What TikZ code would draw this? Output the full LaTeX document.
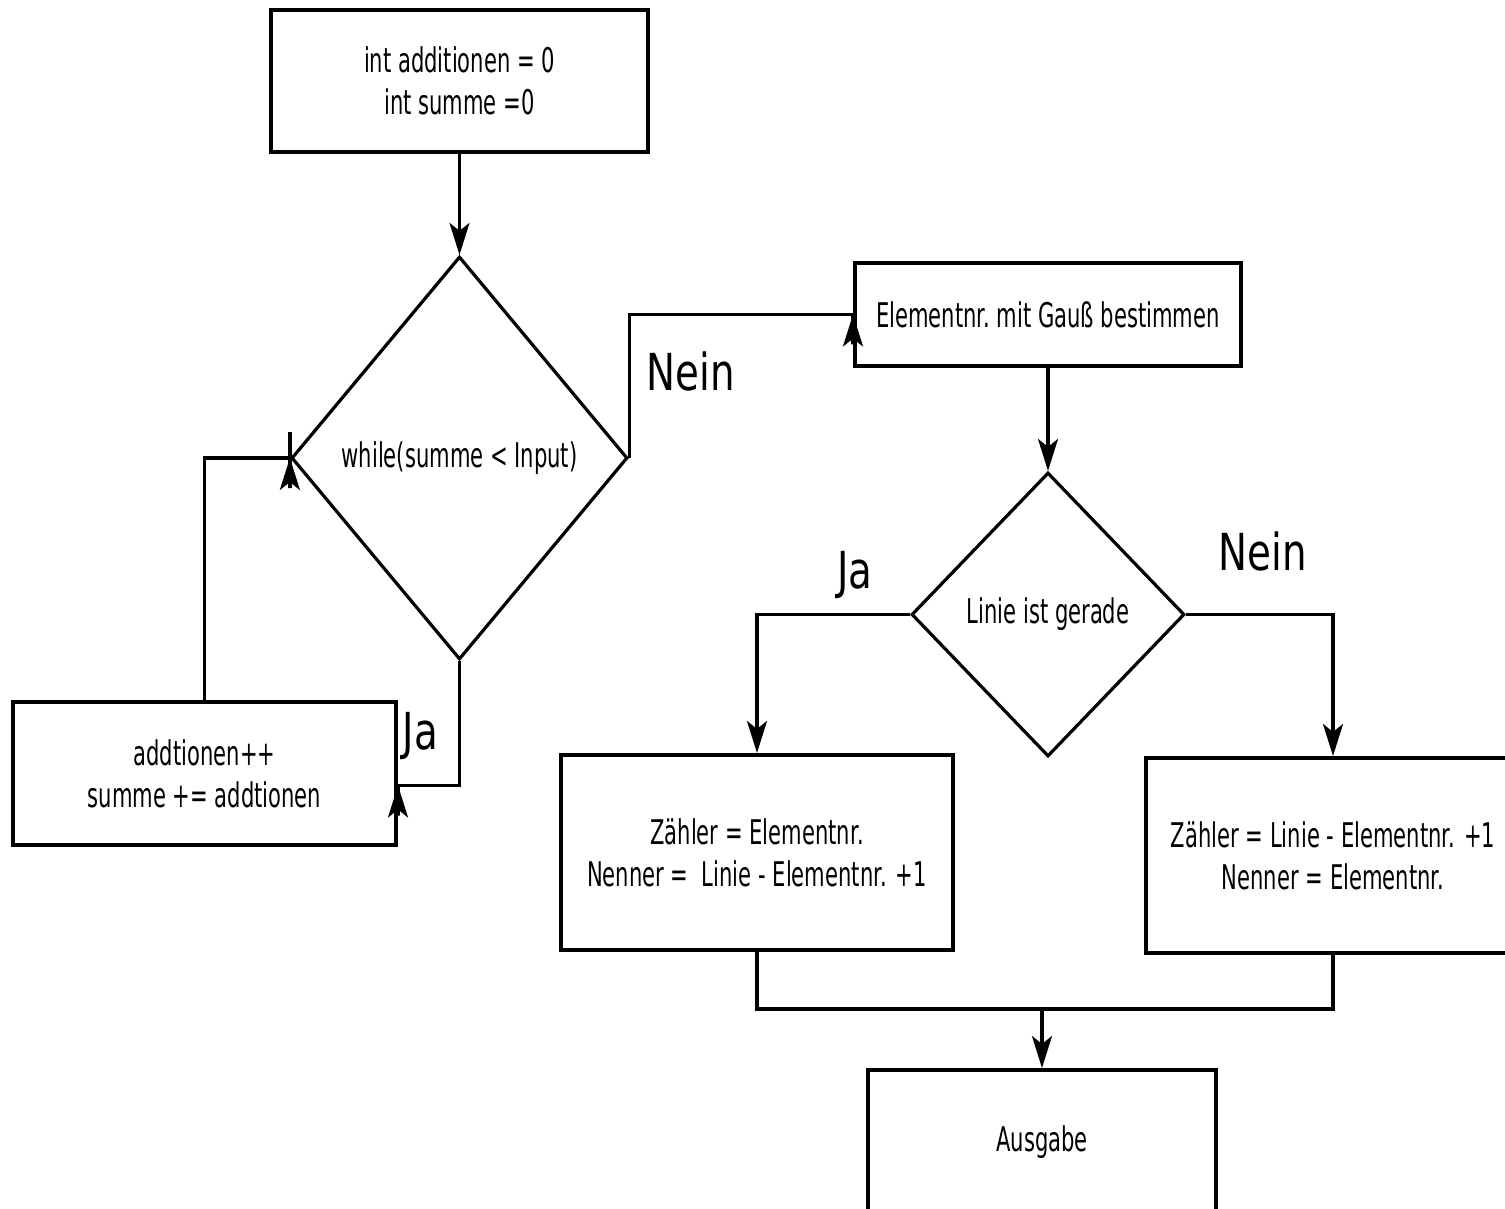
\documentclass[tikz,border=0pt]{standalone}
\usepackage{fontspec}
\setmainfont{DejaVu Sans}[FakeStretch=0.62]
\newfontfamily\bigfont{DejaVu Sans}[FakeStretch=0.76]
\usetikzlibrary{arrows.meta,shapes.geometric}

\begin{document}
\begin{tikzpicture}[x=0.5pt, y=-0.5pt, line width=1.6pt,
    >={Stealth[length=16pt,width=10pt,inset=4pt]},
    box/.style={draw, rectangle, line width=2pt, align=center,
                font=\fontsize{17pt}{21pt}\selectfont},
    cond/.style={draw, diamond, inner sep=0pt, align=center,
                 font=\fontsize{17pt}{21pt}\selectfont},
    lbl/.style={font=\bigfont\fontsize{25.5pt}{30pt}\selectfont, inner sep=0pt}]
  \useasboundingbox (0,0) rectangle (1505,1209);
  \clip (0,0) rectangle (1505,1209);

  \node[box, minimum width=188.5pt, minimum height=71pt]   (init)   at (459.5,81)    {int additionen = 0\\int summe =0};
  \node[cond, minimum width=168pt, minimum height=201.5pt] (loop)   [node distance=188.5pt, below of=init] {while(summe < Input)};
  \node[box, minimum width=191.5pt, minimum height=71.5pt] (add)    at (204.5,773.5) {addtionen++\\summe += addtionen};
  \node[box, minimum width=193pt, minimum height=51.5pt]   (gauss)  at (1048,314.5)  {Elementnr.\ mit Gauß bestimmen};
  \node[cond, minimum width=136.5pt, minimum height=142pt] (gerade) [node distance=150pt, below of=gauss] {Linie ist gerade};
  \node[box, minimum width=196pt, minimum height=97.5pt]   (zja)    at (757,852.5)   {Zähler = Elementnr.\\Nenner = \ Linie - Elementnr. +1};
  \node[box, minimum width=187pt, minimum height=97.5pt]   (znein)  at (1333,855.5)  {Zähler = Linie - Elementnr. +1\\Nenner = Elementnr.};
  \node[box, minimum width=174pt, minimum height=72pt]     (out)    at (1042,1142)   {Ausgabe};
  \coordinate (merge) at (1042,1009);

  \draw[->] (init) -- (loop);
  \draw[->] (loop.east) |- node[lbl, pos=0.3, right=8pt] {Nein} (gauss.west)
            -- ++(0,30) -- (gauss.west);
  \draw[->] (loop.south) |- node[lbl, pos=0.3, left=10pt] {Ja} ([yshift=-6pt]add.east)
            -- ++(0,30) -- ([yshift=-6pt]add.east);
  \draw[->] (add.north) |- (loop.west) -- ++(0,-26) -- ++(0,56) -- (loop.west);
  \draw[->] (gauss) -- (gerade);
  \draw[->] (gerade.west) -| node[lbl, pos=0.18, above=7pt] {Ja} (zja.north);
  \draw[->] (gerade.east) -| node[lbl, pos=0.26, above=21pt] {Nein} (znein.north);
  \draw     (zja.south) |- (merge) -| (znein.south);
  \draw[->] (merge) -- (out);
\end{tikzpicture}
\end{document}
